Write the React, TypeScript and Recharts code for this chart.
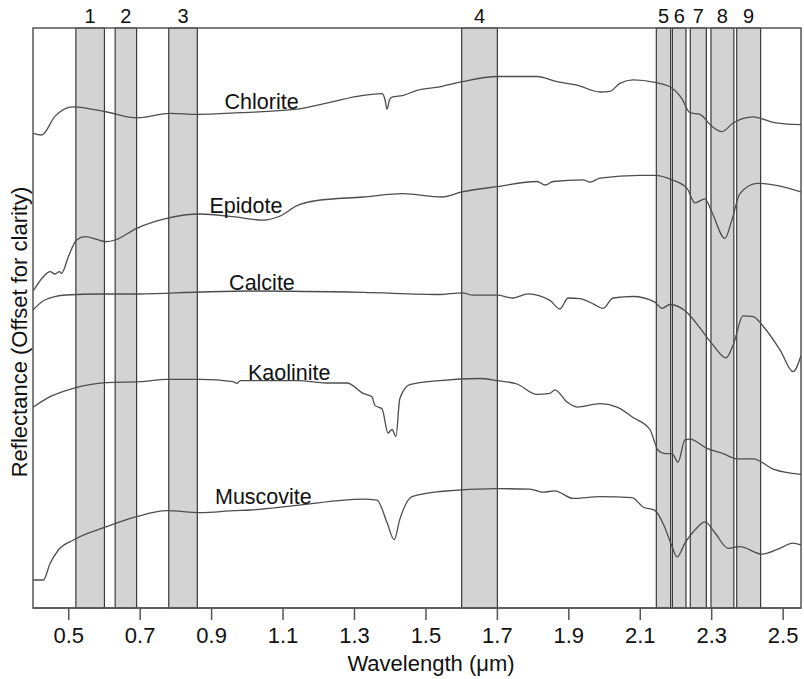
import { Label, Line, LineChart, ReferenceArea, ReferenceDot, XAxis, YAxis } from "recharts"

const FONT = "'Liberation Sans', Arial, Helvetica, sans-serif"

type Pt = [number, number]

// wavelength (µm), reflectance offset for clarity (arbitrary units)
const chlorite: Pt[] = [
  [0.4, 47.47], [0.424, 47.3], [0.462, 49.19], [0.512, 50.12], [0.607, 49.6],
  [0.691, 49.02], [0.784, 49.47], [0.859, 49.36], [0.98, 49.53], [1.139, 49.88],
  [1.231, 50.57], [1.324, 51.26], [1.377, 51.43], [1.385, 50.9], [1.391, 49.88],
  [1.398, 50.8], [1.405, 51.08], [1.436, 51.26], [1.475, 51.77], [1.539, 52.12],
  [1.601, 52.63], [1.699, 53.15], [1.811, 53.15], [1.867, 52.63], [1.923, 52.29],
  [1.987, 51.6], [2.015, 51.67], [2.043, 52.46], [2.08, 52.81], [2.141, 52.56],
  [2.183, 52.12], [2.217, 50.91], [2.239, 49.53], [2.267, 49.36], [2.301, 48.16],
  [2.329, 47.64], [2.36, 48.5], [2.416, 49.12], [2.472, 48.57], [2.55, 48.33],
]

const epidote: Pt[] = [
  [0.401, 31.73], [0.429, 33.13], [0.448, 33.63], [0.462, 33.4], [0.474, 33.63],
  [0.48, 33.47], [0.499, 35.13], [0.522, 36.8], [0.546, 37.13], [0.606, 36.63],
  [0.63, 36.8], [0.69, 37.97], [0.774, 38.97], [0.868, 39.4], [0.96, 39.13],
  [1.044, 38.79], [1.092, 39.2], [1.139, 40.23], [1.195, 40.75], [1.324, 41.1],
  [1.436, 41.44], [1.545, 41.1], [1.601, 41.61], [1.699, 42.13], [1.811, 42.65],
  [1.834, 42.3], [1.856, 42.65], [1.94, 42.82], [1.96, 42.58], [1.987, 42.99],
  [2.099, 43.27], [2.141, 43.27], [2.189, 42.82], [2.231, 41.96], [2.253, 40.51],
  [2.281, 40.92], [2.301, 39.55], [2.337, 36.96], [2.357, 38.86], [2.379, 41.44],
  [2.427, 42.47], [2.55, 41.61],
]

const calcite: Pt[] = [
  [0.4, 29.8], [0.433, 30.8], [0.493, 31.3], [0.586, 31.4], [0.698, 31.4],
  [0.868, 31.6], [1.008, 31.7], [1.324, 31.56], [1.539, 31.35], [1.601, 31.52],
  [1.632, 31.28], [1.699, 31.28], [1.744, 31.0], [1.786, 31.42], [1.847, 30.76],
  [1.875, 29.9], [1.898, 31.0], [1.931, 30.94], [1.968, 30.42], [1.996, 29.97],
  [2.024, 31.0], [2.08, 31.15], [2.141, 30.59], [2.161, 29.97], [2.183, 30.35],
  [2.231, 29.56], [2.267, 28.01], [2.304, 26.29], [2.34, 25.01], [2.36, 26.29],
  [2.388, 29.21], [2.416, 29.14], [2.444, 28.18], [2.492, 25.77], [2.528, 23.63],
  [2.55, 25.25],
]

const kaolinite: Pt[] = [
  [0.4, 20.07], [0.448, 21.13], [0.513, 21.97], [0.606, 22.53], [0.7, 22.63],
  [0.774, 22.87], [0.868, 22.87], [0.96, 22.63], [0.971, 22.47], [0.98, 22.73],
  [1.139, 22.74], [1.231, 22.5], [1.279, 22.5], [1.324, 21.46], [1.349, 21.12],
  [1.357, 20.26], [1.377, 19.92], [1.394, 17.5], [1.405, 17.85], [1.416, 17.16],
  [1.427, 20.95], [1.455, 22.33], [1.539, 22.74], [1.651, 22.95], [1.699, 22.74],
  [1.755, 22.4], [1.811, 21.36], [1.847, 21.46], [1.861, 21.81], [1.895, 20.6],
  [1.923, 20.09], [1.987, 20.43], [2.035, 20.09], [2.08, 19.05], [2.127, 17.85],
  [2.15, 15.78], [2.169, 15.44], [2.189, 15.44], [2.206, 14.58], [2.225, 16.82],
  [2.239, 16.88], [2.287, 15.96], [2.332, 15.44], [2.371, 14.92], [2.416, 14.92],
  [2.472, 13.89], [2.55, 13.37],
]

const muscovite: Pt[] = [
  [0.4, 2.8], [0.429, 2.8], [0.448, 4.47], [0.471, 5.8], [0.513, 6.8],
  [0.606, 8.13], [0.69, 9.13], [0.774, 9.73], [0.868, 9.53], [0.961, 9.73],
  [1.008, 9.8], [1.139, 10.27], [1.324, 10.89], [1.363, 10.79], [1.391, 8.55],
  [1.411, 6.83], [1.427, 8.89], [1.461, 11.13], [1.539, 11.65], [1.699, 11.93],
  [1.791, 11.89], [1.828, 11.58], [1.861, 11.72], [1.912, 10.96], [1.987, 11.13],
  [2.077, 11.03], [2.108, 10.1], [2.141, 9.76], [2.169, 8.03], [2.189, 6.14],
  [2.203, 5.11], [2.225, 6.48], [2.259, 8.03], [2.281, 8.62], [2.309, 7.52],
  [2.346, 5.97], [2.379, 6.14], [2.441, 5.38], [2.491, 5.97], [2.527, 6.48],
  [2.55, 6.31],
]

const SERIES = [chlorite, epidote, calcite, kaolinite, muscovite]
const MINERALS = ["Chlorite", "Epidote", "Calcite", "Kaolinite", "Muscovite"]
const LABEL_W = [1.04, 0.996, 1.041, 1.117, 1.045]
const LABEL_R = [50.64, 40.31, 32.56, 23.6, 11.2]

// sensor bands (µm)
const BAND_NAMES = ["1", "2", "3", "4", "5", "6", "7", "8", "9"]
const BAND_START = [0.52, 0.63, 0.78, 1.6, 2.145, 2.19, 2.24, 2.298, 2.37]
const BAND_END = [0.6, 0.69, 0.86, 1.7, 2.185, 2.228, 2.285, 2.362, 2.437]

const WAVELENGTH_TICKS = [0.5, 0.7, 0.9, 1.1, 1.3, 1.5, 1.7, 1.9, 2.1, 2.3, 2.5]
const X_DOMAIN: [number, number] = [0.4, 2.55]
const Y_DOMAIN: [number, number] = [0, 58]

const INK = "#111"
const FRAME = "#555"

function XTitle(props: any) {
  const vb = props.viewBox
  return (
    <text
      x={vb.x + vb.width / 2 + 14}
      y={vb.y + vb.height - 8}
      textAnchor="middle"
      fontSize={22}
      fontFamily={FONT}
      fill={INK}
    >
      Wavelength (μm)
    </text>
  )
}

function YTitle(props: any) {
  const vb = props.viewBox
  const x = vb.x + 26.5
  const y = vb.y + vb.height / 2 + 14
  return (
    <text
      x={x}
      y={y}
      transform={`rotate(-90, ${x}, ${y})`}
      textAnchor="middle"
      fontSize={22}
      fontFamily={FONT}
      fill={INK}
    >
      Reflectance (Offset for clarity)
    </text>
  )
}

export default function App() {
  return (
    <div style={{ position: "absolute", left: 0, top: 0, background: "#fff" }}>
      <LineChart width={804} height={679} margin={{ top: 28, right: 3, bottom: 0, left: 0 }}>
        <XAxis
          dataKey="w"
          type="number"
          domain={X_DOMAIN}
          ticks={WAVELENGTH_TICKS}
          tickFormatter={(v: number) => v.toFixed(1)}
          allowDataOverflow
          height={71}
          tickSize={12}
          tickMargin={7}
          axisLine={{ stroke: FRAME, strokeWidth: 1.5 }}
          tickLine={{ stroke: FRAME, strokeWidth: 1.5 }}
          tick={{ fill: INK, fontSize: 22, fontFamily: FONT }}
        >
          <Label content={XTitle} />
        </XAxis>
        <YAxis
          type="number"
          domain={Y_DOMAIN}
          allowDataOverflow
          width={33}
          tick={false}
          tickLine={false}
          axisLine={false}
        >
          <Label content={YTitle} />
        </YAxis>

        {BAND_NAMES.map((name, i) => (
          <ReferenceArea
            key={name}
            x1={BAND_START[i]}
            x2={BAND_END[i]}
            fill="#d3d3d3"
            fillOpacity={1}
            stroke="#3a3a3a"
            strokeWidth={1.2}
            label={{
              value: name,
              position: "top",
              offset: 5,
              fontSize: 20,
              fill: INK,
              fontFamily: FONT,
            }}
          />
        ))}
        <ReferenceArea
          x1={X_DOMAIN[0]}
          x2={X_DOMAIN[1]}
          fill="none"
          stroke={FRAME}
          strokeWidth={1.5}
        />

        {SERIES.map((pts, i) => (
          <Line
            key={MINERALS[i]}
            data={pts.map(([w, r]) => ({ w, r }))}
            dataKey="r"
            type="monotone"
            stroke="#4d4d4d"
            strokeWidth={1.3}
            dot={false}
            activeDot={false}
            isAnimationActive={false}
          />
        ))}

        {MINERALS.map((name, i) => (
          <ReferenceDot
            key={name}
            x={LABEL_W[i]}
            y={LABEL_R[i]}
            r={0}
            fill="none"
            stroke="none"
            label={{
              value: name,
              position: "center",
              fontSize: 21.5,
              fill: INK,
              fontFamily: FONT,
            }}
          />
        ))}
      </LineChart>
    </div>
  )
}
